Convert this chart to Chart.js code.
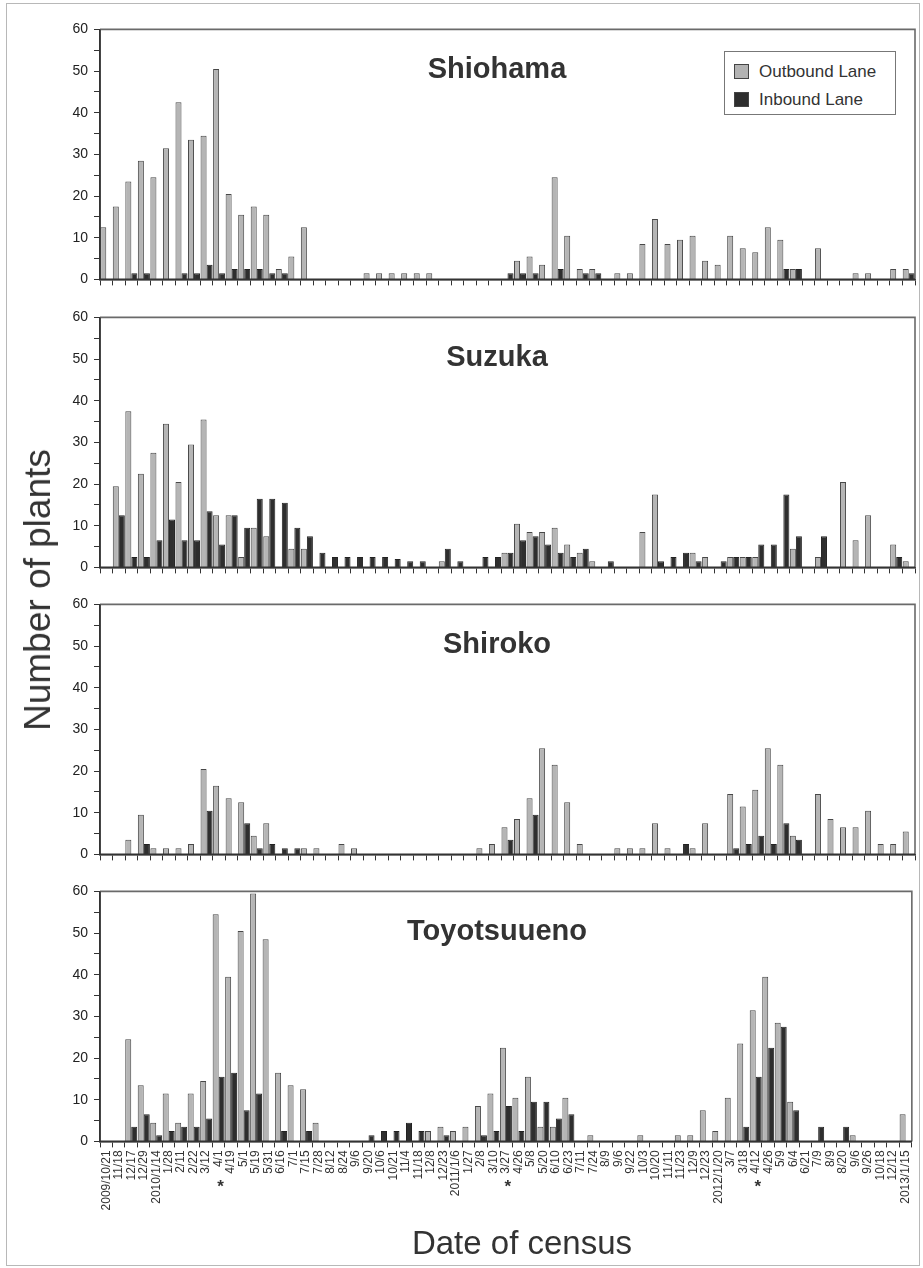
<!DOCTYPE html>
<html><head><meta charset="utf-8">
<script src="https://cdn.jsdelivr.net/npm/chart.js@4.4.0/dist/chart.umd.min.js"></script>
<style>
body{margin:0;background:#fff;width:923px;height:1268px;position:relative;overflow:hidden;font-family:"Liberation Sans",Arial,sans-serif;}
#frame{position:absolute;left:6px;top:3px;width:914px;height:1263px;border:1px solid #b8b8b8;box-sizing:border-box;}
canvas{position:absolute;left:0;}
.title{position:absolute;left:497px;font-weight:bold;font-size:29px;color:#333;transform:translateX(-50%);white-space:nowrap;line-height:1;}
.legend{position:absolute;left:724px;top:51px;width:172px;height:64px;border:1.5px solid #777;box-sizing:border-box;background:#fff;}
.li{position:absolute;left:9px;font-size:17px;color:#333;line-height:1;white-space:nowrap;}
.sw{display:inline-block;width:15px;height:15px;box-sizing:border-box;border:1px solid #444;vertical-align:-2px;margin-right:10px;}
#ylab{position:absolute;left:38px;top:590px;font-size:37px;color:#333;transform:translate(-50%,-50%) rotate(-90deg);white-space:nowrap;}
#xlab{position:absolute;left:522px;top:1243px;font-size:33px;color:#333;transform:translate(-50%,-50%);white-space:nowrap;}
</style></head>
<body>
<div id="frame"></div>
<canvas id="c1" width="923" height="290"></canvas>
<canvas id="c2" width="923" height="290"></canvas>
<canvas id="c3" width="923" height="290"></canvas>
<canvas id="c4" width="923" height="360"></canvas>
<div class="legend">
  <div class="li" style="top:11px"><span class="sw" style="background:#b3b3b3"></span>Outbound Lane</div>
  <div class="li" style="top:39px"><span class="sw" style="background:#2e2e2e"></span>Inbound Lane</div>
</div>
<div id="ylab">Number of plants</div>
<div id="xlab">Date of census</div>
<script>
const dates = ['2009/10/21','11/18','12/17','12/29','2010/1/14','1/28','2/11','2/22','3/12','4/1',
 '4/19','5/1','5/19','5/31','6/16','7/1','7/15','7/28','8/12','8/24',
 '9/6','9/20','10/6','10/21','11/4','11/18','12/8','12/23','2011/1/6','1/27',
 '2/8','3/10','3/27','4/26','5/8','5/20','6/10','6/23','7/11','7/24',
 '8/9','9/6','9/22','10/3','10/20','11/11','11/23','12/9','12/23','2012/1/20',
 '3/7','3/18','4/12','4/26','5/9','6/4','6/21','7/9','8/9','8/20',
 '9/6','9/26','10/18','12/12','2013/1/15'];
const starredDates = ['4/1','3/27','4/12'];
const yTicks = [0,10,20,30,40,50,60];
const seriesNames = ['Outbound Lane','Inbound Lane'];

const shiohamaOut = [12.5,17.5,23.5,28.5,24.5,31.5,42.5,33.5,34.5,50.5,
 20.5,15.5,17.5,15.5,2.5,5.5,12.5,0,0,0,
 0,1.5,1.5,1.5,1.5,1.5,1.5,0,0,0,
 0,0,0,4.5,5.5,3.5,24.5,10.5,2.5,2.5,
 0,1.5,1.5,8.5,14.5,8.5,9.5,10.5,4.5,3.5,
 10.5,7.5,6.5,12.5,9.5,2.5,0,7.5,0,0,
 1.5,1.5,0,2.5,2.5];
const shiohamaIn = [0,0,1.5,1.5,0,0,1.5,1.5,3.5,1.5,
 2.5,2.5,2.5,1.5,1.5,0,0,0,0,0,
 0,0,0,0,0,0,0,0,0,0,
 0,0,1.5,1.5,1.5,0,2.5,0,1.5,1.5,
 0,0,0,0,0,0,0,0,0,0,
 0,0,0,0,2.5,2.5,0,0,0,0,
 0,0,0,0,1.5];
const suzukaOut = [0,19.5,37.5,22.5,27.5,34.5,20.5,29.5,35.5,12.5,
 12.5,2.5,9.5,7.5,0,4.5,4.5,0,0,0,
 0,0,0,0,0,0,0,1.5,0,0,
 0,0,3.5,10.5,8.5,8.5,9.5,5.5,3.5,1.5,
 0,0,0,8.5,17.5,0,0,3.5,2.5,0,
 2.5,2.5,2.5,0,0,4.5,0,2.5,0,20.5,
 6.5,12.5,0,5.5,1.5];
const suzukaIn = [0,12.5,2.5,2.5,6.5,11.5,6.5,6.5,13.5,5.5,
 12.5,9.5,16.5,16.5,15.5,9.5,7.5,3.5,2.5,2.5,
 2.5,2.5,2.5,2,1.5,1.5,0,4.5,1.5,0,
 2.5,2.5,3.5,6.5,7.5,5.5,3.5,2.5,4.5,0,
 1.5,0,0,0,1.5,2.5,3.5,1.5,0,1.5,
 2.5,2.5,5.5,5.5,17.5,7.5,0,7.5,0,0,
 0,0,0,2.5,0];
const shirokoOut = [0,0,3.5,9.5,1.5,1.5,1.5,2.5,20.5,16.5,
 13.5,12.5,4.5,7.5,0,0,1.5,1.5,0,2.5,
 1.5,0,0,0,0,0,0,0,0,0,
 1.5,2.5,6.5,8.5,13.5,25.5,21.5,12.5,2.5,0,
 0,1.5,1.5,1.5,7.5,1.5,0,1.5,7.5,0,
 14.5,11.5,15.5,25.5,21.5,4.5,0,14.5,8.5,6.5,
 6.5,10.5,2.5,2.5,5.5];
const shirokoIn = [0,0,0,2.5,0,0,0,0,10.5,0,
 0,7.5,1.5,2.5,1.5,1.5,0,0,0,0,
 0,0,0,0,0,0,0,0,0,0,
 0,0,3.5,0,9.5,0,0,0,0,0,
 0,0,0,0,0,0,2.5,0,0,0,
 1.5,2.5,4.5,2.5,7.5,3.5,0,0,0,0,
 0,0,0,0,0];
const toyoOut = [0,0,24.5,13.5,4.5,11.5,4.5,11.5,14.5,54.5,
 39.5,50.5,59.5,48.5,16.5,13.5,12.5,4.5,0,0,
 0,0,0,0,0,0,2.5,3.5,2.5,3.5,
 8.5,11.5,22.5,10.5,15.5,3.5,3.5,10.5,0,1.5,
 0,0,0,1.5,0,0,1.5,1.5,7.5,2.5,
 10.5,23.5,31.5,39.5,28.5,9.5,0,0,0,0,
 1.5,0,0,0,6.5];
const toyoIn = [0,0,3.5,6.5,1.5,2.5,3.5,3.5,5.5,15.5,
 16.5,7.5,11.5,0,2.5,0,2.5,0,0,0,
 0,1.5,2.5,2.5,4.5,2.5,0,1.5,0,0,
 1.5,2.5,8.5,2.5,9.5,9.5,5.5,6.5,0,0,
 0,0,0,0,0,0,0,0,0,0,
 0,3.5,15.5,22.5,27.5,7.5,0,3.5,0,3.5,
 0,0,0,0,0];

const panels = [
  {id:'c1', title:'Shiohama', out:shiohamaOut, inb:shiohamaIn, top:29, labels:false},
  {id:'c2', title:'Suzuka', out:suzukaOut, inb:suzukaIn, top:317, labels:false},
  {id:'c3', title:'Shiroko', out:shirokoOut, inb:shirokoIn, top:604, labels:false},
  {id:'c4', title:'Toyotsuueno', out:toyoOut, inb:toyoIn, top:891, labels:true}
];
const AREA_LEFT = 100, AREA_W = 815, AREA_H = 250;
const FONT = '"Liberation Sans", Arial, sans-serif';

const framePlugin = {
  id:'frame',
  afterDatasetsDraw(chart){
    const {ctx, chartArea:a} = chart;
    ctx.save();
    ctx.strokeStyle = '#6a6a6a';
    ctx.lineWidth = 1.6;
    ctx.beginPath();
    ctx.moveTo(a.left, a.top); ctx.lineTo(a.right, a.top); ctx.lineTo(a.right, a.bottom);
    ctx.stroke();
    ctx.strokeStyle = '#333';
    ctx.beginPath();
    ctx.moveTo(a.left, a.top); ctx.lineTo(a.left, a.bottom); ctx.lineTo(a.right, a.bottom);
    ctx.stroke();
    ctx.restore();
  }
};
const starPlugin = {
  id:'stars',
  afterDraw(chart){
    if (!chart.options.plugins.stars || !chart.options.plugins.stars.show) return;
    const {ctx, chartArea:a} = chart;
    const xs = chart.scales.x;
    ctx.save();
    ctx.fillStyle = '#333';
    ctx.font = 'bold 17px ' + FONT;
    ctx.textAlign = 'center';
    ctx.textBaseline = 'middle';
    starredDates.forEach(d => {
      const i = dates.indexOf(d);
      ctx.fillText('*', xs.getPixelForValue(i) + 2, a.bottom + 46);
    });
    ctx.restore();
  }
};

panels.forEach(p => {
  const canvas = document.getElementById(p.id);
  const chart = new Chart(canvas, {
    type:'bar',
    data:{
      labels: dates,
      datasets:[
        {label:seriesNames[0], data:p.out, backgroundColor:'#b5b5b5', borderColor:'#484848', borderWidth:1, borderSkipped:'start'},
        {label:seriesNames[1], data:p.inb, backgroundColor:'#2e2e2e', borderColor:'#222', borderWidth:1, borderSkipped:'start'}
      ]
    },
    options:{
      responsive:false,
      animation:false,
      events:[],
      layout:{padding:{top:12, right:8, bottom:10, left:0}},
      datasets:{bar:{categoryPercentage:0.96, barPercentage:1.0}},
      plugins:{legend:{display:false}, tooltip:{enabled:false}, title:{display:false}, stars:{show:p.labels}},
      scales:{
        x:{
          type:'category',
          offset:true,
          grid:{offset:true, drawOnChartArea:false, drawTicks:true, tickLength:6, color:'#333', lineWidth:1},
          border:{display:true, color:'#333', width:1.5},
          ticks:{display:p.labels, autoSkip:false, maxRotation:90, minRotation:90, padding:3,
                 color:'#333', font:{family:FONT, size:12}},
          afterFit(s){ s.height = p.labels ? 80 : 8; }
        },
        y:{
          min:0, max:60,
          grid:{drawOnChartArea:false, drawTicks:true, tickLength:6, color:'#333', lineWidth:1},
          border:{display:true, color:'#333', width:1.5},
          ticks:{stepSize:5, padding:6, color:'#222', font:{family:FONT, size:14},
                 callback:(v)=> yTicks.includes(v) ? String(v) : ''},
          afterFit(s){ s.width = 100; }
        }
      }
    },
    plugins:[framePlugin, starPlugin]
  });
  for (let k=0;k<3;k++){
    const a = chart.chartArea;
    const dw = (a.right - a.left) - AREA_W;
    const dh = (a.bottom - a.top) - AREA_H;
    if (Math.abs(dw) < 0.01 && Math.abs(dh) < 0.01) break;
    chart.options.layout.padding.right += dw;
    chart.options.layout.padding.bottom += dh;
    chart.update();
  }
  const a = chart.chartArea;
  canvas.style.left = (AREA_LEFT - a.left) + 'px';
  canvas.style.top = (p.top - a.top) + 'px';
  const t = document.createElement('div');
  t.className = 'title';
  t.textContent = p.title;
  t.style.top = (p.top + 25) + 'px';
  document.body.appendChild(t);
});
</script>
</body></html>
